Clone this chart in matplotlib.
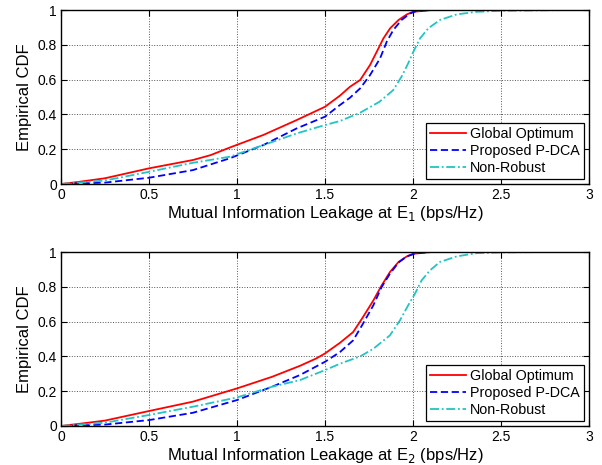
import matplotlib
matplotlib.use("Agg")
import matplotlib.pyplot as plt
from matplotlib.ticker import FuncFormatter

plt.rcParams['font.family'] = ['Liberation Sans', 'DejaVu Sans']

# ---- Data ----
# Top panel (E1)
x1_go = [0, 0.1, 0.25, 0.5, 0.75, 0.85, 0.96, 1.15, 1.34, 1.5, 1.585, 1.642, 1.70, 1.756, 1.794, 1.832, 1.87, 1.918, 1.965, 2.0, 2.1, 2.3]
y1_go = [0, 0.012, 0.033, 0.09, 0.138, 0.166, 0.21, 0.282, 0.368, 0.444, 0.508, 0.559, 0.598, 0.684, 0.76, 0.837, 0.895, 0.943, 0.975, 0.99, 1.0, 1.0]
x1_pd = [0, 0.25, 0.5, 0.75, 0.96, 1.15, 1.34, 1.5, 1.585, 1.642, 1.70, 1.756, 1.813, 1.851, 1.888, 1.935, 1.983, 2.02, 2.1, 2.3]
y1_pd = [0, 0.008, 0.036, 0.08, 0.148, 0.224, 0.32, 0.387, 0.454, 0.496, 0.55, 0.626, 0.722, 0.818, 0.885, 0.943, 0.98, 0.995, 1.0, 1.0]
x1_nr = [0, 0.25, 0.5, 0.75, 0.96, 1.15, 1.34, 1.5, 1.585, 1.70, 1.81, 1.888, 1.935, 1.973, 2.002, 2.04, 2.087, 2.153, 2.248, 2.36, 2.5, 2.85]
y1_nr = [0, 0.02, 0.07, 0.122, 0.157, 0.224, 0.291, 0.339, 0.362, 0.41, 0.473, 0.54, 0.617, 0.694, 0.76, 0.837, 0.895, 0.943, 0.975, 0.99, 0.996, 1.0]

# Bottom panel (E2)
x2_go = [0, 0.1, 0.25, 0.5, 0.75, 1.0, 1.2, 1.358, 1.45, 1.5, 1.585, 1.66, 1.716, 1.775, 1.822, 1.869, 1.918, 1.965, 2.0, 2.1, 2.25]
y2_go = [0, 0.012, 0.031, 0.086, 0.14, 0.216, 0.283, 0.346, 0.388, 0.417, 0.478, 0.54, 0.626, 0.722, 0.808, 0.885, 0.943, 0.975, 0.99, 1.0, 1.0]
x2_pd = [0, 0.25, 0.5, 0.75, 1.0, 1.2, 1.358, 1.5, 1.585, 1.66, 1.716, 1.775, 1.822, 1.869, 1.918, 1.965, 2.02, 2.1, 2.25]
y2_pd = [0, 0.008, 0.034, 0.076, 0.149, 0.226, 0.293, 0.369, 0.425, 0.492, 0.588, 0.694, 0.799, 0.875, 0.94, 0.975, 0.994, 1.0, 1.0]
x2_nr = [0, 0.25, 0.5, 0.75, 1.0, 1.2, 1.358, 1.5, 1.585, 1.70, 1.775, 1.869, 1.926, 1.973, 2.011, 2.049, 2.097, 2.153, 2.248, 2.362, 2.5, 2.7]
y2_nr = [0, 0.019, 0.063, 0.111, 0.164, 0.226, 0.264, 0.321, 0.358, 0.40, 0.444, 0.521, 0.607, 0.694, 0.76, 0.837, 0.895, 0.943, 0.975, 0.994, 0.998, 1.0]

labels = ['Global Optimum', 'Proposed P-DCA', 'Non-Robust']
xticks = [0, 0.5, 1, 1.5, 2, 2.5, 3]
yticks = [0, 0.2, 0.4, 0.6, 0.8, 1]
xlabels = ['Mutual Information Leakage at E$_1$ (bps/Hz)',
           'Mutual Information Leakage at E$_2$ (bps/Hz)']

fig = plt.figure(figsize=(6.02, 4.65), dpi=100)
ax_top = fig.add_axes([0.1013, 0.6043, 0.877, 0.374])
ax_bot = fig.add_axes([0.1013, 0.0839, 0.877, 0.374])

fmt = FuncFormatter(lambda v, p: '%g' % v)
cyan = '#22c4c4'

panels = [
    (ax_top, (x1_go, y1_go), (x1_pd, y1_pd), (x1_nr, y1_nr), xlabels[0]),
    (ax_bot, (x2_go, y2_go), (x2_pd, y2_pd), (x2_nr, y2_nr), xlabels[1]),
]
for ax, go, pd_, nr, xl in panels:
    ax.plot(go[0], go[1], color='#ff0000', lw=1.3, ls='-', label=labels[0])
    ax.plot(pd_[0], pd_[1], color='#0000ff', lw=1.3, ls=(0, (4, 2)), label=labels[1])
    ax.plot(nr[0], nr[1], color=cyan, lw=1.3, ls=(0, (5, 1.5, 1, 1.5)), label=labels[2])
    ax.set_xlim(0, 3)
    ax.set_ylim(0, 1)
    ax.set_xticks(xticks)
    ax.set_yticks(yticks)
    ax.xaxis.set_major_formatter(fmt)
    ax.yaxis.set_major_formatter(fmt)
    ax.tick_params(direction='in', top=True, right=True, length=4, width=0.8,
                   labelsize=10, pad=3)
    ax.grid(True, ls=':', color='#555555', lw=0.7)
    for s in ax.spines.values():
        s.set_linewidth(1.0)
    ax.set_xlabel(xl, fontsize=12, labelpad=1)
    ax.set_ylabel('Empirical CDF', fontsize=12, labelpad=4)
    leg = ax.legend(loc='lower right', fontsize=10.3, fancybox=False, framealpha=1,
                    edgecolor='black', borderaxespad=0.35, handlelength=2.5,
                    handletextpad=0.3, labelspacing=0.2, borderpad=0.3)
    leg.get_frame().set_linewidth(0.9)

fig.savefig('out.png', dpi=100)
